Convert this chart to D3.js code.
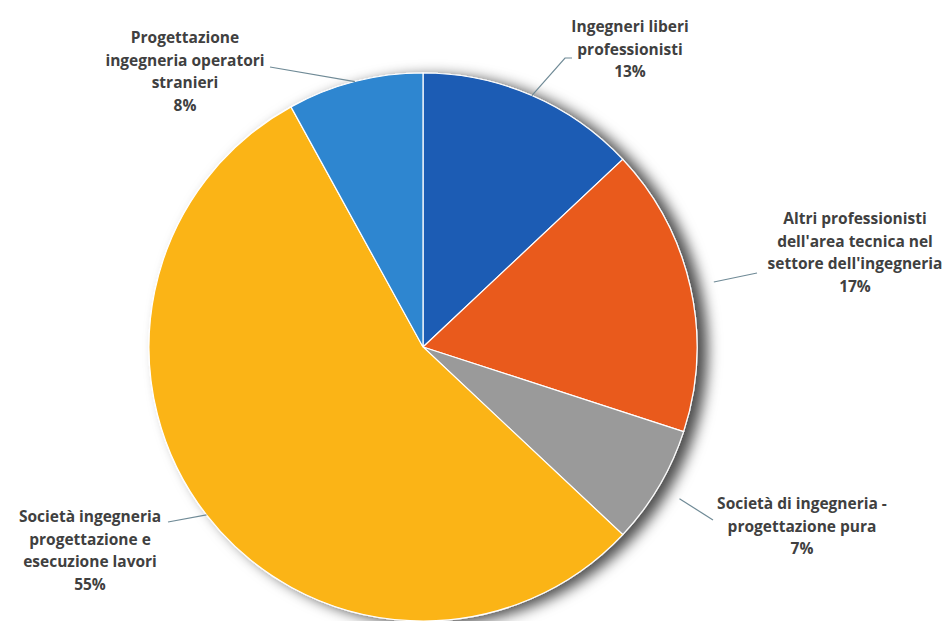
<!DOCTYPE html>
<html>
<head>
<meta charset="utf-8">
<script src="https://cdn.jsdelivr.net/npm/d3@7"></script>
<style>
  body { margin: 0; background: #fff; }
  svg text { font-family: "Open Sans", sans-serif; font-weight: 700; font-size: 15.5px; fill: #404040; }
</style>
</head>
<body>
<div id="chart"></div>
<script>
// data
const categories = [
  "Ingegneri liberi professionisti",
  "Altri professionisti dell'area tecnica nel settore dell'ingegneria",
  "Società di ingegneria - progettazione pura",
  "Società ingegneria progettazione e esecuzione lavori",
  "Progettazione ingegneria operatori stranieri"
];
const values = [13, 17, 7, 55, 8];
const labelLines = [
  ["Ingegneri liberi", "professionisti"],
  ["Altri professionisti", "dell'area tecnica nel", "settore dell'ingegneria"],
  ["Società di ingegneria -", "progettazione pura"],
  ["Società ingegneria", "progettazione e", "esecuzione lavori"],
  ["Progettazione", "ingegneria operatori", "stranieri"]
];
const colors = ["#1c5cb4", "#e95a1f", "#9a9a9a", "#fbb417", "#2e86d0"];

// layout
const width = 947, height = 621;
const cx = 423, cy = 347, radius = 274;
const lineH = 22.5;
// label block centre x, first baseline y, leader start offset, elbow point, label attach point
const labelLayout = [
  { x: 630, y: 32, off: 0, elbow: [565, 58], end: [572, 58] },
  { x: 855, y: 224, off: 24, elbow: null, end: [757, 273] },
  { x: 802, y: 509, off: 24, elbow: null, end: [713, 520] },
  { x: 90, y: 522, off: 0, elbow: null, end: [168, 522] },
  { x: 185, y: 43, off: 0, elbow: null, end: [270, 67] }
];

const svg = d3.select("#chart").append("svg")
  .attr("width", width)
  .attr("height", height);

const defs = svg.append("defs");
const filter = defs.append("filter")
  .attr("id", "shadow")
  .attr("x", "-20%").attr("y", "-20%")
  .attr("width", "140%").attr("height", "140%");
filter.append("feDropShadow")
  .attr("dx", 10).attr("dy", 3)
  .attr("stdDeviation", 7)
  .attr("flood-color", "#000")
  .attr("flood-opacity", 0.7);

const pie = d3.pie().sort(null).value(d => d);
const arcs = pie(values);
const arc = d3.arc().innerRadius(0).outerRadius(radius);

const g = svg.append("g")
  .attr("transform", `translate(${cx},${cy})`);

g.append("g")
  .attr("filter", "url(#shadow)")
  .selectAll("path")
  .data(arcs)
  .join("path")
  .attr("d", arc)
  .attr("fill", (d, i) => colors[i])
  .attr("stroke", "#fff")
  .attr("stroke-width", 1.2);

// leader lines
arcs.forEach((d, i) => {
  const L = labelLayout[i];
  const a = (d.startAngle + d.endAngle) / 2;
  const r = radius + L.off;
  const sx = cx + r * Math.sin(a);
  const sy = cy - r * Math.cos(a);
  const pts = [[sx, sy]];
  if (L.elbow) pts.push(L.elbow);
  pts.push(L.end);
  svg.append("path")
    .attr("d", d3.line()(pts))
    .attr("fill", "none")
    .attr("stroke", "#6f8a96")
    .attr("stroke-width", 1.2);
});

// labels
arcs.forEach((d, i) => {
  const L = labelLayout[i];
  const lines = labelLines[i].concat([values[i] + "%"]);
  const t = svg.append("text")
    .attr("text-anchor", "middle")
    .attr("x", L.x)
    .attr("y", L.y);
  lines.forEach((s, k) => {
    t.append("tspan")
      .attr("x", L.x)
      .attr("dy", k === 0 ? 0 : lineH)
      .text(s);
  });
});
</script>
</body>
</html>
